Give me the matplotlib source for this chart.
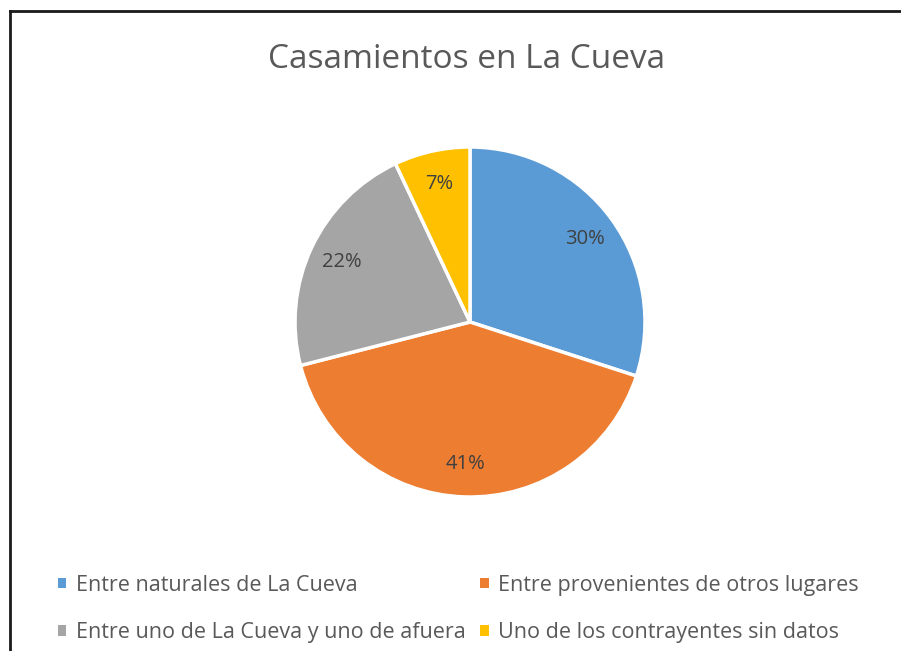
import matplotlib.pyplot as plt
from matplotlib.patches import Patch
from matplotlib.lines import Line2D

# data
categories = ["Entre naturales de La Cueva",
              "Entre provenientes de otros lugares",
              "Entre uno de La Cueva y uno de afuera",
              "Uno de los contrayentes sin datos"]
values = [30, 41, 22, 7]
colors = ['#5B9BD5', '#ED7D31', '#A5A5A5', '#FFC000']
title = "Casamientos en La Cueva"

plt.rcParams['font.family'] = ['Open Sans', 'DejaVu Sans']

W, H = 901, 651
fig = plt.figure(figsize=(W / 100, H / 100), dpi=100)

# pie centre (470, 322) px, radius 175 px
cx, cy, r = 470, 322, 175
ax = fig.add_axes([(cx - r) / W, (H - cy - r) / H, 2 * r / W, 2 * r / H])
wedges, _, autotexts = ax.pie(values, colors=colors, startangle=90, counterclock=False,
                              autopct='%1.0f%%', pctdistance=0.81,
                              wedgeprops=dict(edgecolor='white', linewidth=2.5),
                              textprops=dict(color='#404040', fontsize=14.5))
ax.set_xlim(-1, 1)
ax.set_ylim(-1, 1)
ax.set_aspect('equal')

fig.text(cx / W - 3 / W, 1 - 60 / H, title, ha='center', va='center',
         fontsize=24, color='#595959')

# legend, row-major order
handles = [Patch(facecolor=c, edgecolor='none') for c in colors]
order = [0, 2, 1, 3]
leg = fig.legend([handles[i] for i in order], [categories[i] for i in order],
                 ncol=2, loc='upper left', bbox_to_anchor=(47 / W, 1 - 564 / H),
                 frameon=False, fontsize=15.5, labelcolor='#595959',
                 handlelength=0.38, handleheight=0.38, handletextpad=0.45,
                 columnspacing=0.7, labelspacing=1.22, borderpad=0)

# chart border (top and left only, as in the crop)
fig.add_artist(Line2D([10 / W, 1], [1 - 11 / H, 1 - 11 / H], color='#1a1a1a', lw=2))
fig.add_artist(Line2D([10 / W, 10 / W], [0, 1 - 11 / H], color='#1a1a1a', lw=2))

fig.savefig("out.png", dpi=100)
